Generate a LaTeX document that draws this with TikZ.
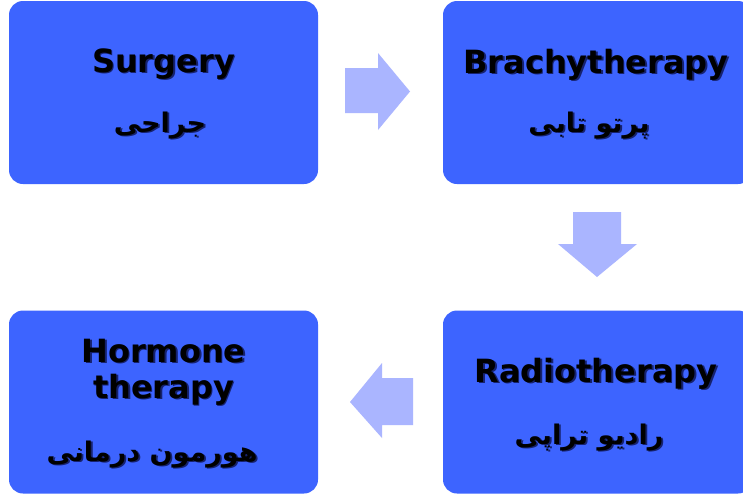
\documentclass[tikz,border=0pt]{standalone}
\usepackage{fontspec}
\setmainfont{DejaVu Sans}
\newfontfamily\arabicfont[Script=Arabic]{DejaVu Sans}
\TeXXeTstate=1
\usetikzlibrary{calc}
\definecolor{boxblue}{RGB}{61,100,255}
\definecolor{arrowblue}{RGB}{170,181,255}
\definecolor{shadowink}{RGB}{22,34,110}
\tikzset{
  stagebox/.style={fill=boxblue, draw=none, rounded corners=14pt,
    minimum width=309pt, minimum height=183pt, inner sep=0pt},
  entext/.style={anchor=base, inner sep=0pt, font=\bfseries\fontsize{32}{36}\selectfont},
  fatext/.style={anchor=base, inner sep=0pt, font=\arabicfont\bfseries\fontsize{27}{30}\selectfont},
  blockarrow/.style={fill=arrowblue, draw=none}
}
% text with a soft drop shadow set behind it
\newcommand{\dropshadow}[1]{\leavevmode\rlap{\kern1.8pt\raisebox{-1.8pt}{\textcolor{shadowink}{#1}}}#1}
\begin{document}
\begin{tikzpicture}[x=1pt, y=-1pt]
  \useasboundingbox (0,0) rectangle (743,496);
  \clip (0,0) rectangle (743,496);
  \fill[white] (0,0) rectangle (743,496);

  % the four stages
  \node[stagebox] (surgery) at (163.5,92.5) {};
  \node[stagebox] (brachy)  at (597.5,92.5) {};
  \node[stagebox] (hormone) at (163.5,402)  {};
  \node[stagebox] (radio)   at (597.5,402)  {};

  % labels
  \node[entext] (surgeryEn) at (163.5,72) {\dropshadow{Surgery}};
  \node[fatext] (surgeryFa) at (160,132) {\dropshadow{\beginR جراحی\endR}};

  \node[entext] (brachyEn) at (596,73) {\dropshadow{Brachytherapy}};
  \node[fatext] (brachyFa) at (589,132) {\dropshadow{\beginR پرتو تابی\endR}};

  \node[entext] (hormoneEn) at (163.5,362) {\dropshadow{Hormone}};
  \node[entext] (therapyEn) at (163.5,398) {\dropshadow{therapy}};
  \node[fatext] (hormoneFa) at (152,461) {\dropshadow{\beginR هورمون درمانی\endR}};

  \node[entext] (radioEn) at (596,382) {\dropshadow{Radiotherapy}};
  \node[fatext] (radioFa) at (589,444) {\dropshadow{\beginR رادیو تراپی\endR}};

  % block arrows between the stages
  \fill[blockarrow] (345,68) -- (378,68) -- (378,53) -- (410,91.5)
    -- (378,130) -- (378,113) -- (345,113) -- cycle;
  \fill[blockarrow] (573,212) -- (621,212) -- (621,244) -- (637,244)
    -- (597,277) -- (558,244) -- (573,244) -- cycle;
  \fill[blockarrow] (413,378) -- (382,378) -- (382,363) -- (350,402)
    -- (382,438) -- (382,425) -- (413,425) -- cycle;
\end{tikzpicture}
\end{document}
